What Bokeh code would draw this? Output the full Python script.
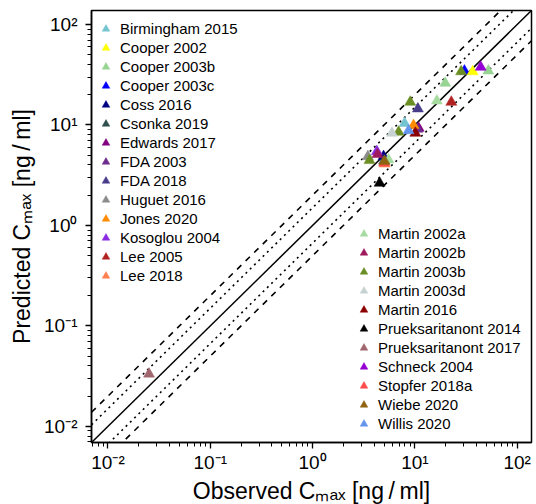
from bokeh.plotting import figure
from bokeh.models import Range1d, Legend, LegendItem, CustomJSTickFormatter
from bokeh.embed import file_html
from bokeh.resources import INLINE

# ---- data -------------------------------------------------------------
studies = [
    "Birmingham 2015", "Cooper 2002", "Cooper 2003b", "Cooper 2003c", "Coss 2016",
    "Csonka 2019", "Edwards 2017", "FDA 2003", "FDA 2018", "Huguet 2016",
    "Jones 2020", "Kosoglou 2004", "Lee 2005", "Lee 2018",
    "Martin 2002a", "Martin 2002b", "Martin 2003b", "Martin 2003d", "Martin 2016",
    "Prueksaritanont 2014", "Prueksaritanont 2017", "Schneck 2004", "Stopfer 2018a",
    "Wiebe 2020", "Willis 2020",
]
study_colors = [
    "#74c4d0", "#ffff00", "#98d494", "#0000ff", "#000080",
    "#2f4f4f", "#800080", "#6c2d8c", "#483d8b", "#8c8c8c",
    "#ff8c00", "#8a2be2", "#b22222", "#ff7f50",
    "#a6dba0", "#9e1a5e", "#6b8e23", "#c7d3d3", "#8b0000",
    "#000000", "#a0676e", "#9400d3", "#ff4c4c",
    "#8f6410", "#6495ed",
]

# one entry per observation
point_study = [
    "Birmingham 2015", "Cooper 2002", "Cooper 2003b", "Cooper 2003b", "Cooper 2003c",
    "Coss 2016", "Csonka 2019", "Edwards 2017", "FDA 2003", "FDA 2018",
    "Huguet 2016", "Jones 2020", "Kosoglou 2004", "Lee 2005", "Lee 2018",
    "Martin 2002a", "Martin 2002a", "Martin 2002b",
    "Martin 2003b", "Martin 2003b", "Martin 2003b", "Martin 2003b",
    "Martin 2003d", "Martin 2016", "Prueksaritanont 2014", "Prueksaritanont 2017",
    "Schneck 2004", "Stopfer 2018a", "Wiebe 2020", "Willis 2020",
]
observed_cmax = [
    7.93, 36.7, 52.2, 19.8, 30.5,
    4.94, 5.0, 10.9, 10.6, 10.7,
    3.47, 9.7, 4.25, 22.7, 5.06,
    16.4, 5.53, 4.31,
    28.3, 9.0, 6.93, 3.6,
    5.97, 10.1, 4.52, 0.0252,
    44.0, 5.0, 5.06, 8.67,
]
predicted_cmax = [
    10.4, 34.0, 34.6, 26.1, 34.5,
    4.86, 4.4, 9.3, 9.1, 14.5,
    4.86, 9.9, 5.45, 16.9, 4.1,
    17.4, 4.5, 5.1,
    34.0, 16.9, 8.5, 4.44,
    8.3, 8.3, 2.64, 0.0332,
    37.7, 4.2, 4.34, 8.8,
]

axis_lo, axis_hi = 0.0069, 138.0
tick_exponents = {"-": "\u207b", "0": "\u2070", "1": "\u00b9", "2": "\u00b2", "3": "\u00b3"}

FONT = "Liberation Sans"

# ---- figure -----------------------------------------------------------
p = figure(
    x_axis_type="log", y_axis_type="log",
    x_range=Range1d(axis_lo, axis_hi), y_range=Range1d(axis_lo, axis_hi),
    frame_width=440, frame_height=432,
    min_border_left=91, min_border_right=4, min_border_top=10, min_border_bottom=61,
    output_backend="svg", toolbar_location=None,
    background_fill_color="white", border_fill_color="white",
)
p.grid.visible = False
p.outline_line_color = "black"
p.outline_line_width = 1.5

# reference lines: 1:1, 1.5-fold, 2-fold
line_x = [axis_lo, axis_hi]
p.line(line_x, [v for v in line_x], line_color="black", line_width=1.5)
for f in (1.5, 1 / 1.5):
    p.line(line_x, [v * f for v in line_x], line_color="black", line_width=1.6,
           line_dash="2 4")
for f in (2.0, 0.5):
    p.line(line_x, [v * f for v in line_x], line_color="black", line_width=1.6,
           line_dash="6 6")

# points
renderers = {}
draw_order = ["Cooper 2003c"] + [s for s in studies if s != "Cooper 2003c"]
for s in draw_order:
    c = study_colors[studies.index(s)]
    xs = [o for o, st in zip(observed_cmax, point_study) if st == s]
    ys = [v for v, st in zip(predicted_cmax, point_study) if st == s]
    renderers[s] = p.scatter(xs, ys, marker="triangle", size=11,
                             fill_color=c, line_color=c, line_width=0.5)

# legends
def make_legend(names, loc):
    lg = Legend(items=[LegendItem(label=n, renderers=[renderers[n]]) for n in names],
                location=loc, orientation="vertical")
    lg.glyph_width = 19
    lg.glyph_height = 19
    lg.label_height = 19
    lg.spacing = 0
    lg.padding = 0
    lg.margin = 0
    lg.label_standoff = 5
    lg.label_text_font = FONT
    lg.label_text_font_size = "15px"
    lg.label_text_color = "black"
    lg.border_line_color = None
    lg.background_fill_alpha = 0
    return lg

p.add_layout(make_legend(studies[:14], (5, 157)))
p.add_layout(make_legend(studies[14:], (263, 9)))

# axes
sup_js = ", ".join('"%s": "%s"' % (k, v) for k, v in tick_exponents.items())
fmt = CustomJSTickFormatter(code="""
const sup = {%s};
const e = Math.round(Math.log10(tick));
return "10" + String(e).split("").map(c => sup[c]).join("");
""" % sup_js)

for ax in (p.xaxis[0], p.yaxis[0]):
    ax.formatter = fmt
    ax.axis_line_width = 1.5
    ax.major_tick_line_width = 1.3
    ax.minor_tick_line_width = 1.0
    ax.major_tick_out = 6
    ax.major_tick_in = 0
    ax.minor_tick_out = 4
    ax.minor_tick_in = 0
    ax.major_label_text_font = FONT
    ax.major_label_text_font_size = "19px"
    ax.major_label_text_color = "black"
    ax.axis_label_text_font = FONT
    ax.axis_label_text_font_size = "23px"
    ax.axis_label_text_font_style = "normal"
    ax.axis_label_text_color = "black"

p.xaxis.axis_label = "Observed C\u2098\u2090\u2093 [ng\u2009/\u2009ml]"
p.yaxis.axis_label = "Predicted C\u2098\u2090\u2093 [ng\u2009/\u2009ml]"
p.xaxis.major_label_standoff = 3
p.yaxis.major_label_standoff = 8
p.xaxis.axis_label_standoff = 2
p.yaxis.axis_label_standoff = 6

open("out.html", "w").write(file_html(p, INLINE))
